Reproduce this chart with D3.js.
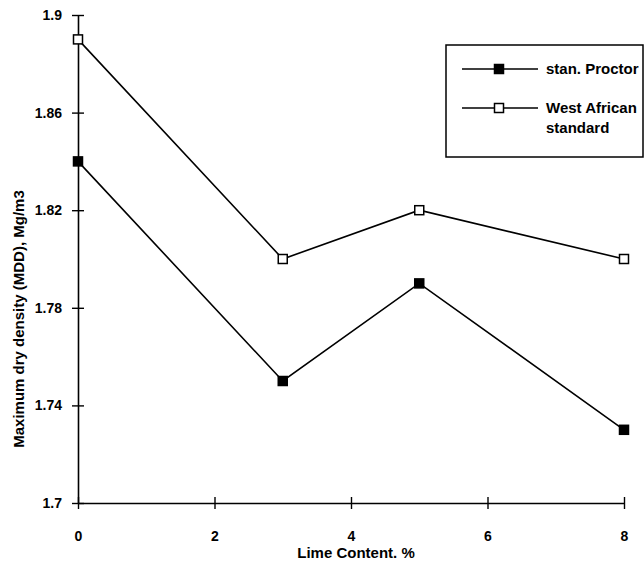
<!DOCTYPE html>
<html>
<head>
<meta charset="utf-8">
<script src="https://cdn.jsdelivr.net/npm/d3@7"></script>
<style>
  body { margin: 0; background: #fff; }
  svg text { font-family: "Liberation Sans", Arial, sans-serif; font-weight: bold; fill: #000; }
</style>
</head>
<body>
<svg id="chart" width="644" height="572"></svg>
<script>
const limeContent = [0, 3, 5, 8];
const stanProctor = [1.84, 1.75, 1.79, 1.73];
const westAfrican = [1.89, 1.80, 1.82, 1.80];
const xTicks = [0, 2, 4, 6, 8];
const yTicks = [1.7, 1.74, 1.78, 1.82, 1.86, 1.9];
const seriesNames = ["stan. Proctor", "West African standard"];

const svg = d3.select("#chart");
const x = d3.scaleLinear().domain([0, 8]).range([78, 624]);
const y = d3.scaleLinear().domain([1.7, 1.9]).range([503, 15]);

// axes
const xAxis = d3.axisBottom(x).tickValues(xTicks).tickSizeInner(6).tickSizeOuter(0).tickPadding(22)
  .tickFormat(d3.format("d"));
const gx = svg.append("g").attr("transform", `translate(0,${y(1.7)})`).call(xAxis);
gx.select(".domain").attr("stroke", "#000").attr("stroke-width", 1.6);
gx.selectAll(".tick line").attr("y1", -6).attr("stroke", "#000").attr("stroke-width", 1.4);
gx.selectAll(".tick text").style("font-size", "14px");

const yAxis = d3.axisLeft(y).tickValues(yTicks).tickSizeInner(6).tickSizeOuter(0).tickPadding(10)
  .tickFormat(d => d3.format("")(+d.toFixed(2)));
const gy = svg.append("g").attr("transform", `translate(${x(0)},0)`).call(yAxis);
gy.select(".domain").attr("stroke", "#000").attr("stroke-width", 1.6);
gy.selectAll(".tick line").attr("x1", 6).attr("x2", -6).attr("stroke", "#000").attr("stroke-width", 1.4);
gy.selectAll(".tick text").style("font-size", "14px");

// axis titles
svg.append("text").attr("x", x(4) + 5).attr("y", 558).attr("text-anchor", "middle")
  .style("font-size", "15px").text("Lime Content. %");
svg.append("text").attr("transform", `translate(24,${y(1.8) + 60}) rotate(-90)`)
  .attr("text-anchor", "middle").style("font-size", "15px").text("Maximum dry density (MDD), Mg/m3");

const line = d3.line().x(d => x(d[0])).y(d => y(d[1]));
const series = [
  { name: seriesNames[0], values: stanProctor, fill: "#000" },
  { name: seriesNames[1], values: westAfrican, fill: "#fff" }
];
const ms = 9;
series.forEach(s => {
  const pts = limeContent.map((v, i) => [v, s.values[i]]);
  svg.append("path").datum(pts).attr("d", line).attr("fill", "none")
    .attr("stroke", "#000").attr("stroke-width", 1.6);
  svg.selectAll(null).data(pts).enter().append("rect")
    .attr("x", d => x(d[0]) - ms / 2).attr("y", d => y(d[1]) - ms / 2)
    .attr("width", ms).attr("height", ms)
    .attr("fill", s.fill).attr("stroke", "#000").attr("stroke-width", 1.5);
});

// legend
const lg = svg.append("g");
lg.append("rect").attr("x", 446).attr("y", 45).attr("width", 197).attr("height", 112)
  .attr("fill", "#fff").attr("stroke", "#000").attr("stroke-width", 1.5);
const rows = [69, 108];
series.forEach((s, i) => {
  lg.append("line").attr("x1", 462).attr("x2", 538).attr("y1", rows[i]).attr("y2", rows[i])
    .attr("stroke", "#000").attr("stroke-width", 1.6);
  lg.append("rect").attr("x", 499 - ms / 2).attr("y", rows[i] - ms / 2).attr("width", ms).attr("height", ms)
    .attr("fill", s.fill).attr("stroke", "#000").attr("stroke-width", 1.5);
});
lg.append("text").attr("x", 546).attr("y", rows[0] + 5).style("font-size", "15px").text("stan. Proctor");
const t2 = lg.append("text").attr("x", 546).attr("y", rows[1] + 5).style("font-size", "15px");
t2.append("tspan").attr("x", 546).text("West African");
t2.append("tspan").attr("x", 546).attr("dy", 20).text("standard");
</script>
</body>
</html>
